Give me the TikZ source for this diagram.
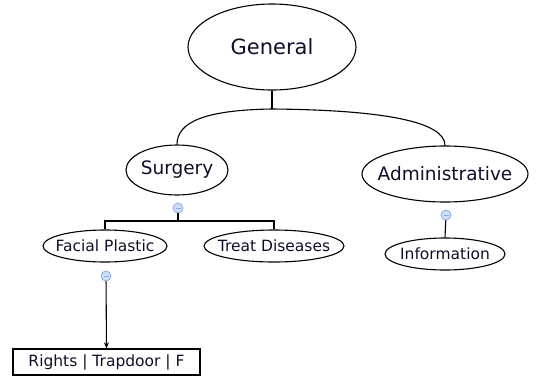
\documentclass[tikz,border=0pt]{standalone}
\usepackage{fontspec}
\setmainfont{DejaVu Sans}
\usetikzlibrary{shapes.geometric,arrows.meta}
\definecolor{txt}{rgb}{0.06,0.06,0.16}
\definecolor{togglefill}{HTML}{CFDDF7}
\definecolor{toggleline}{HTML}{8AAAE6}
\newcommand{\lbl}[1]{\makebox[0pt]{#1}}
\tikzset{
  topic/.style={ellipse, draw, line width=1.1pt, inner sep=0pt, text=txt},
  big/.style={font=\fontsize{21}{25}\selectfont},
  mid/.style={font=\fontsize{18.5}{22}\selectfont},
  small/.style={font=\fontsize{15.5}{19}\selectfont},
  leafbox/.style={rectangle, draw, line width=1.1pt, inner sep=0pt, text=txt},
  toggle/.style={circle, draw=toggleline, fill=togglefill, line width=0.8pt,
    minimum size=10pt, inner sep=0pt,
    path picture={\draw[toggleline, line width=0.8pt]
      ([xshift=-2.5pt]path picture bounding box.center) -- ++(5pt,0);}},
  link/.style={line width=1.1pt},
  arrowlink/.style={line width=1.1pt, -{Stealth[length=6pt,width=5pt]}}
}
\begin{document}
\begin{tikzpicture}[x=1pt,y=-1pt]
\useasboundingbox (0,0) rectangle (536,381);
% topics
\node[topic, big, minimum width=168pt, minimum height=86pt] (gen) at (272,47) {\lbl{General}};
\node[topic, mid, minimum width=102pt, minimum height=50pt] (surg) at (177,170) {\lbl{Surgery}};
\node[topic, mid, minimum width=166pt, minimum height=56pt] (adm) at (445,174) {\lbl{Administrative}};
\node[topic, small, minimum width=124pt, minimum height=32pt] (fac) at (105,246) {\lbl{Facial Plastic}};
\node[topic, small, minimum width=140pt, minimum height=32pt] (treat) at (274,246) {\lbl{Treat Diseases}};
\node[topic, small, minimum width=120pt, minimum height=32pt] (info) at (445,254) {\lbl{Information}};
\node[leafbox, small, minimum width=187pt, minimum height=26pt] (leaf) at (106.5,362) {Rights | Trapdoor | F};
% collapse toggles
\node[toggle] (ms) at (178,208) {};
\node[toggle] (ma) at (446,215) {};
\node[toggle] (mf) at (106,276) {};
% branch points
\coordinate (j) at (272,109);
\coordinate (sb) at (178,221);
% connectors
\draw[link] (gen.south) -- (j);
\draw[link] (j) .. controls (205,110) and (177,122) .. (surg.north);
\draw[link] (j) .. controls (385,110) and (445,122) .. (adm.north);
\draw[link] (ms) -- (sb);
\draw[link] (fac.north) -- (fac.north |- sb) -- (treat.north |- sb) -- (treat.north);
\draw[link] (ma) -- (info.north);
\draw[arrowlink] (mf) -- (leaf.north);
\end{tikzpicture}
\end{document}
